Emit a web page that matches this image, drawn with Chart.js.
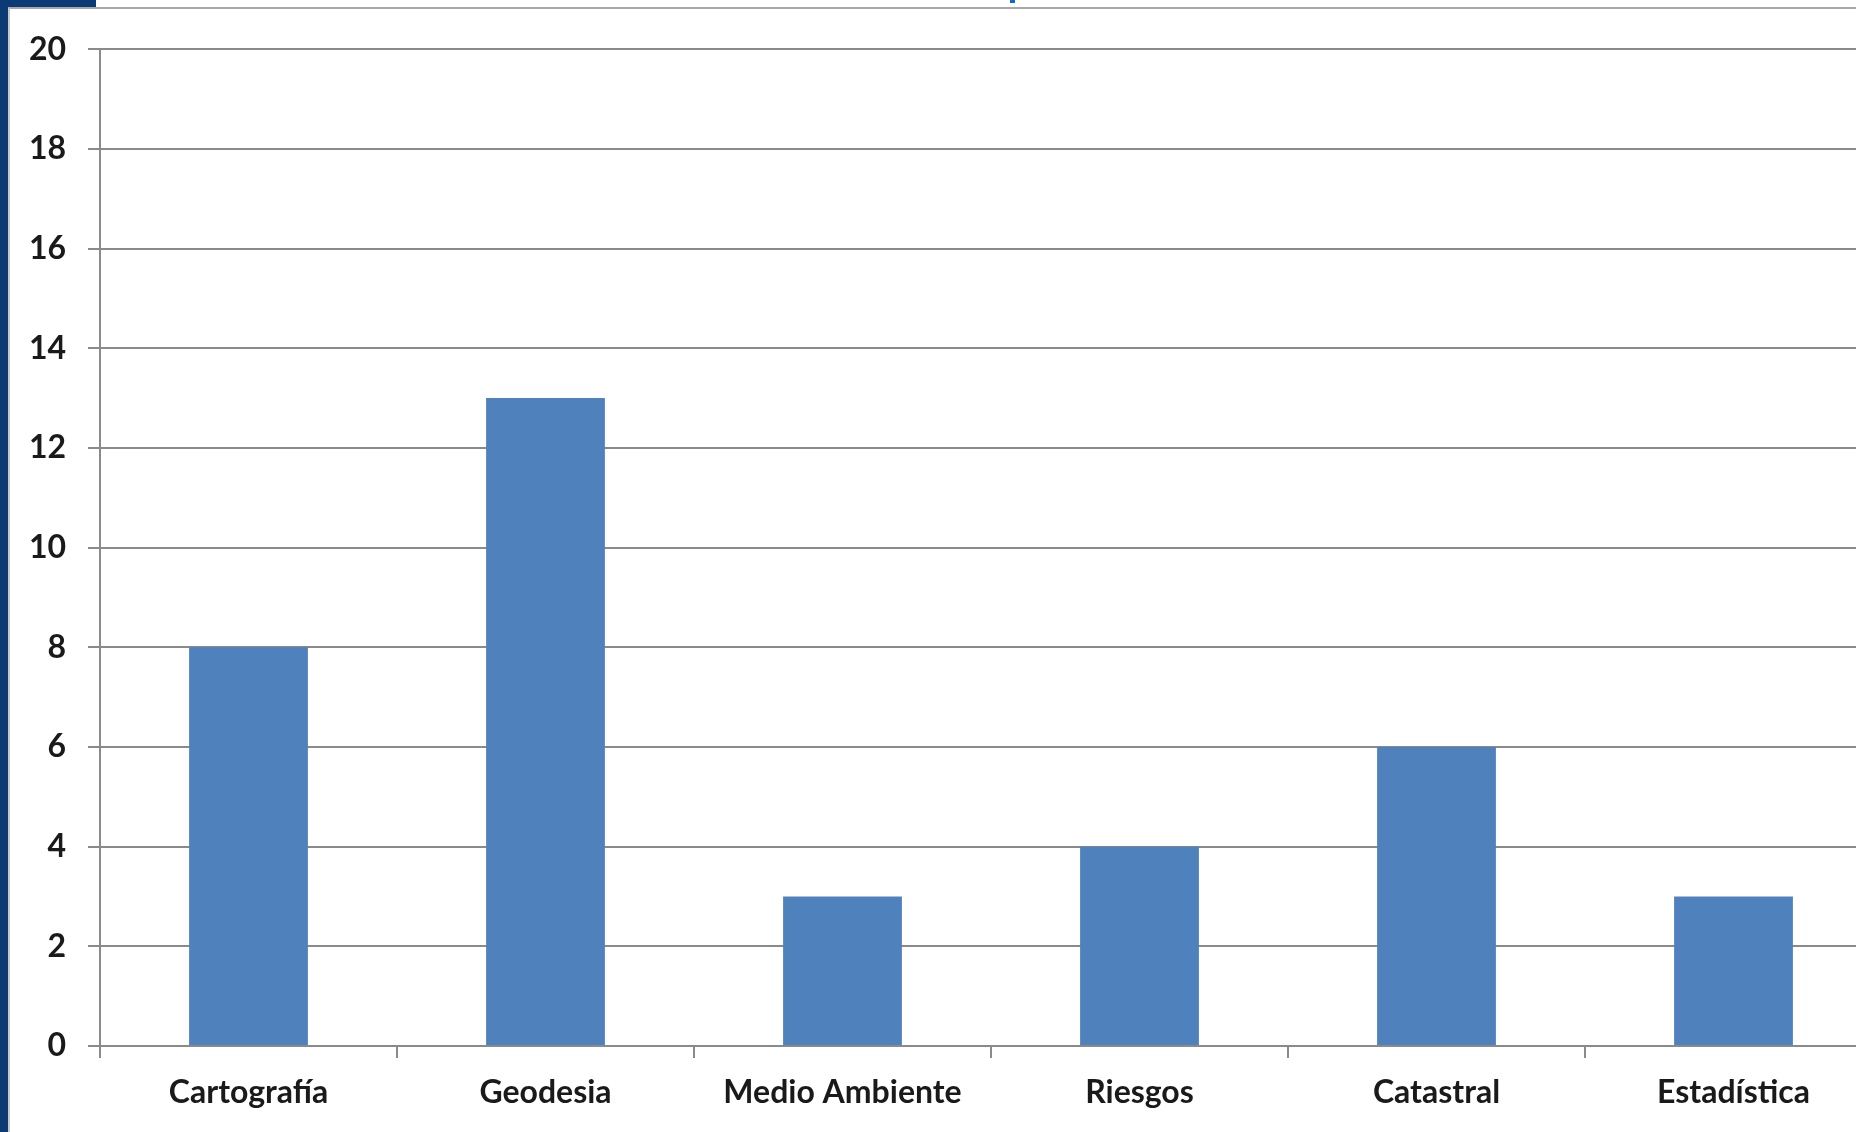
<!DOCTYPE html>
<html>
<head>
<meta charset="utf-8">
<script src="https://cdn.jsdelivr.net/npm/chart.js@4/dist/chart.umd.min.js"></script>
<style>
    body { margin: 0; width: 1856px; height: 1132px; overflow: hidden; background: #fff; position: relative; }
    .franja { position: absolute; left: 0; top: 0; width: 8px; height: 1132px; background: #0b3a74; }
    .esquina { position: absolute; left: 0; top: 0; width: 96px; height: 7px; background: #0b3a74; }
    .marca { position: absolute; left: 1010px; top: 0; width: 5px; height: 3px; background: #1066d6; }
    .marco { position: absolute; left: 8px; top: 7px; width: 1848px; height: 1125px; border-top: 2px solid #a8a8a8; border-left: 2px solid #c8c8c8; box-sizing: border-box; }
    .contenedor { position: absolute; left: 10px; top: 8px; width: 1872px; height: 1124px; }
</style>
</head>
<body>
<div class="franja"></div>
<div class="esquina"></div>
<div class="marca"></div>
<div class="marco"></div>
<div class="contenedor"><canvas id="grafico"></canvas></div>
<script>
var categorias = ['Cartografía', 'Geodesia', 'Medio Ambiente', 'Riesgos', 'Catastral', 'Estadística']
var valores = [8, 13, 3, 4, 6, 3]
var ticksY = [0, 2, 4, 6, 8, 10, 12, 14, 16, 18, 20]

var fuente = { family: 'Lato, "Open Sans", sans-serif', size: 32, weight: 'bold' }

var ctx = document.querySelector('#grafico')
new Chart(ctx, {
    type: 'bar',
    data: {
        labels: categorias,
        datasets: [{
            label: 'Proyectos',
            data: valores,
            backgroundColor: '#4f81bd',
            borderWidth: 0,
            barPercentage: 0.4,
            categoryPercentage: 1
        }]
    },
    options: {
        responsive: true,
        maintainAspectRatio: false,
        animation: false,
        layout: {
            padding: { top: 34, right: 0, left: 0, bottom: 0 }
        },
        plugins: {
            legend: { display: false },
            tooltip: { enabled: false }
        },
        scales: {
            x: {
                offset: true,
                grid: {
                    offset: true,
                    drawOnChartArea: false,
                    color: '#8a8a8a',
                    lineWidth: 2,
                    tickLength: 12
                },
                border: { color: '#8a8a8a', width: 2 },
                ticks: {
                    color: '#1a1a1a',
                    font: fuente,
                    padding: 15,
                    maxRotation: 0,
                    autoSkip: false
                },
                afterFit: function (escala) { escala.height = 86 }
            },
            y: {
                min: 0,
                max: 20,
                afterBuildTicks: function (escala) {
                    escala.ticks = ticksY.map(function (v) { return { value: v } })
                },
                grid: {
                    color: '#8a8a8a',
                    lineWidth: 2,
                    tickLength: 12
                },
                border: { color: '#8a8a8a', width: 2 },
                ticks: {
                    color: '#1a1a1a',
                    font: fuente,
                    padding: 22
                },
                afterFit: function (escala) { escala.width = 90 }
            }
        }
    }
})
</script>
</body>
</html>
